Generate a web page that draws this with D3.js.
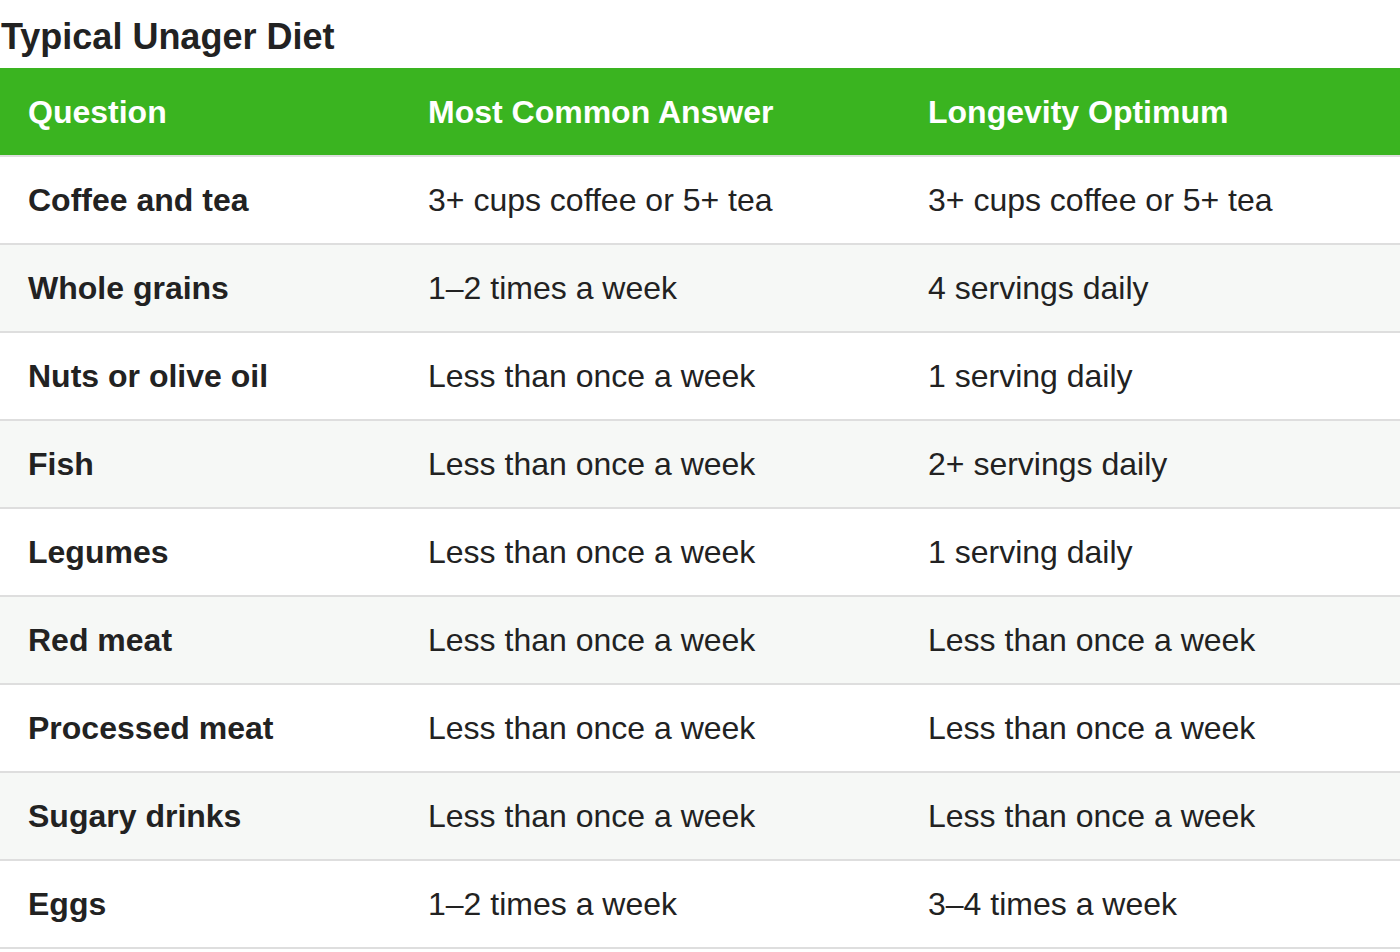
<!DOCTYPE html><html><head><meta charset="utf-8">
<script src="https://cdn.jsdelivr.net/npm/d3@7"></script>
<style>body{margin:0;background:#fff}</style></head><body>
<script>
const title="Typical Unager Diet";
const headers=["Question","Most Common Answer","Longevity Optimum"];
const questions=["Coffee and tea","Whole grains","Nuts or olive oil","Fish","Legumes","Red meat","Processed meat","Sugary drinks","Eggs"];
const commonAnswers=["3+ cups coffee or 5+ tea","1–2 times a week","Less than once a week","Less than once a week","Less than once a week","Less than once a week","Less than once a week","Less than once a week","1–2 times a week"];
const optimum=["3+ cups coffee or 5+ tea","4 servings daily","1 serving daily","2+ servings daily","1 serving daily","Less than once a week","Less than once a week","Less than once a week","3–4 times a week"];

const W=1400,H=952,font="'Liberation Sans',Arial,Helvetica,sans-serif";
const svg=d3.select("body").append("svg").attr("width",W).attr("height",H).style("font-family",font);
svg.append("text").attr("x",1).attr("y",49).attr("font-size",36).attr("font-weight","bold").attr("fill","#222").text(title);
const colX=[28,428,928];
const y=d3.scaleBand().domain(d3.range(questions.length+1)).range([68,948]);
svg.append("rect").attr("x",0).attr("y",y(0)).attr("width",W).attr("height",y.bandwidth()).attr("fill","#3ab420");
headers.forEach((h,i)=>svg.append("text").attr("x",colX[i]).attr("y",y(0)+y.bandwidth()/2+11).attr("font-size",32).attr("font-weight","bold").attr("fill","#fff").text(h));
const rows=questions.map((q,i)=>[q,commonAnswers[i],optimum[i]]);
const g=svg.selectAll("g.row").data(rows).join("g").attr("transform",(d,i)=>`translate(0,${y(i+1)})`);
g.append("rect").attr("width",W).attr("height",y.bandwidth()).attr("fill",(d,i)=>i%2?"#f6f8f6":"#fff");
g.append("rect").attr("y",-1).attr("width",W).attr("height",2).attr("fill","#dedede");
g.selectAll("text").data(d=>d).join("text").attr("x",(d,i)=>colX[i]).attr("y",y.bandwidth()/2+11)
 .attr("font-size",32).attr("font-weight",(d,i)=>i==0?"bold":"normal").attr("fill","#222").text(d=>d);
svg.append("rect").attr("y",947).attr("width",W).attr("height",2).attr("fill","#dedede");
</script></body></html>
